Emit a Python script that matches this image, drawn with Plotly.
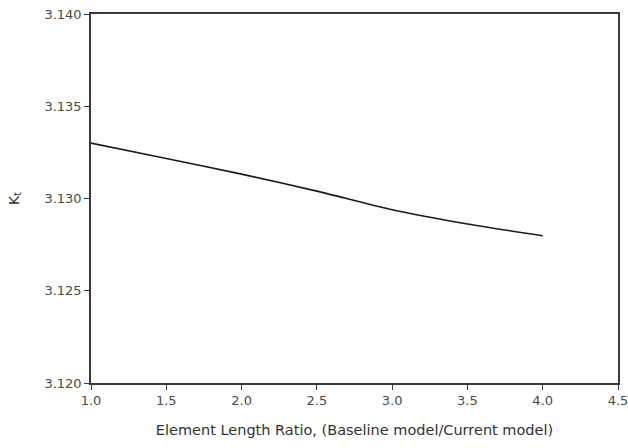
import plotly.graph_objects as go

# Element length ratio vs. stress concentration factor Kt
ratio = [1.0, 1.5, 2.0, 2.5, 3.0, 3.5, 4.0]
kt = [3.13300, 3.13217, 3.13132, 3.13040, 3.12939, 3.12862, 3.12798]

x_ticks = [1.0, 1.5, 2.0, 2.5, 3.0, 3.5, 4.0, 4.5]
y_ticks = [3.120, 3.125, 3.130, 3.135, 3.140]

font_family = "DejaVu Sans, Liberation Sans, Arial, sans-serif"
axis_color = "#3a3a3a"
label_color = "#4a4a4a"

fig = go.Figure()
fig.add_trace(go.Scatter(
    x=ratio, y=kt, mode="lines",
    line=dict(color="#1a1a1a", width=1.6, shape="spline", smoothing=0.8),
    showlegend=False, hoverinfo="skip",
))

fig.update_layout(
    width=628, height=448,
    margin=dict(l=91, r=10, t=14, b=65),
    paper_bgcolor="white", plot_bgcolor="white",
    font=dict(family=font_family, color=label_color),
)

fig.update_xaxes(
    range=[1.0, 4.5], tickvals=x_ticks,
    ticktext=[f"{v:.1f}" for v in x_ticks],
    showgrid=False, zeroline=False, automargin=False,
    ticklabeloverflow="allow",
    showline=True, linecolor=axis_color, linewidth=1.5, mirror=True,
    ticks="outside", ticklen=5, tickwidth=1.2, tickcolor=axis_color,
    tickfont=dict(size=13, color=label_color),
    title=dict(text="Element Length Ratio, (Baseline model/Current model)",
               font=dict(size=14.5, color="#333333"), standoff=18),
)

fig.update_yaxes(
    range=[3.120, 3.140], tickvals=y_ticks,
    ticktext=[f"{v:.3f}" for v in y_ticks],
    showgrid=False, zeroline=False, automargin=False,
    ticklabeloverflow="allow",
    showline=True, linecolor=axis_color, linewidth=1.5, mirror=True,
    ticks="outside", ticklen=5, tickwidth=1.2, tickcolor=axis_color,
    tickfont=dict(size=13, color=label_color),
    title=dict(text="K<sub>t</sub>", font=dict(size=14, color="#333333"),
               standoff=22),
)

fig.write_html("out.html")
